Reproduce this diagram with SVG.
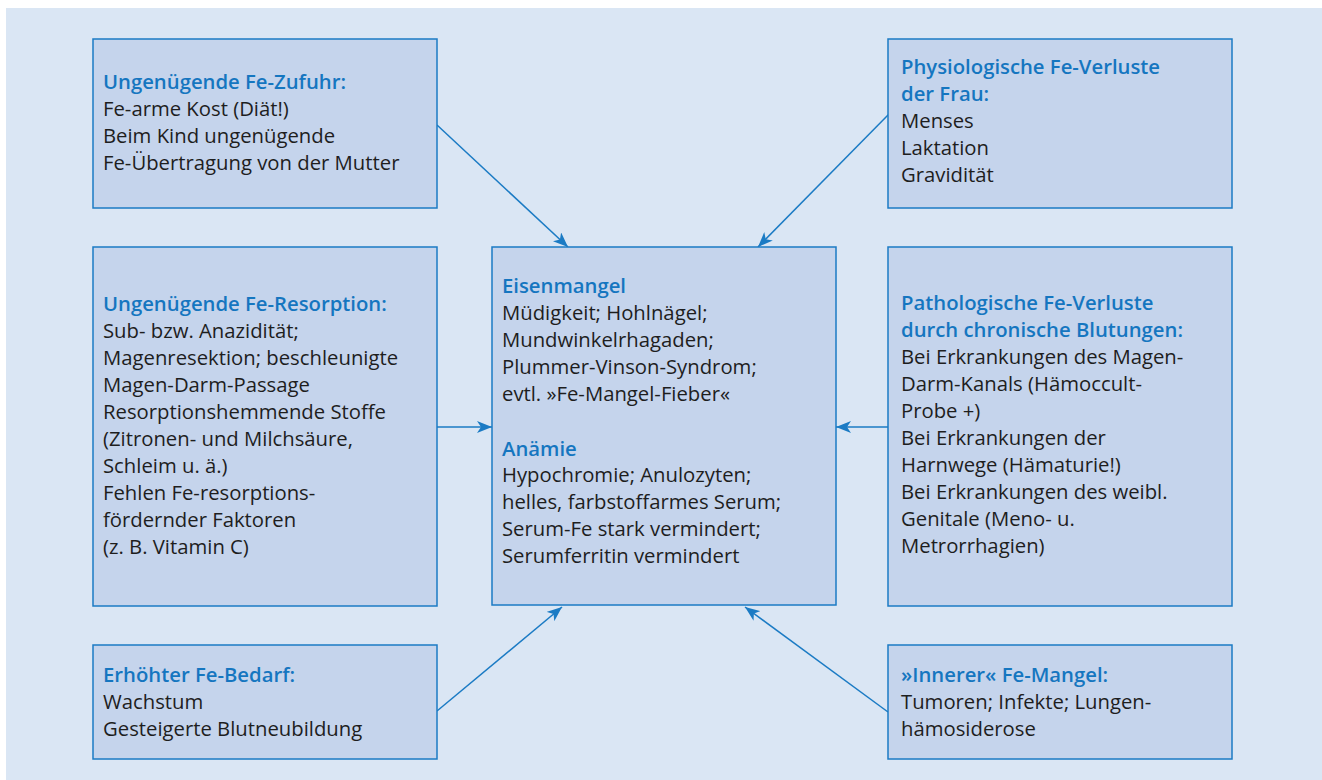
<svg xmlns="http://www.w3.org/2000/svg" width="1322" height="780" viewBox="0 0 1322 780">
<style>
.box{fill:#c5d4ec;stroke:#1b7bc4;stroke-width:1.5}
.t{font-family:"Open Sans","Noto Sans",sans-serif;font-size:20.3px;fill:#1e1e1e}
.h{font-weight:600;fill:#1576c0}
.c{stroke:#1b7bc4;stroke-width:1.5;fill:none;marker-end:url(#ah)}
</style>
<defs>
<marker id="ah" markerUnits="userSpaceOnUse" markerWidth="16" markerHeight="12" refX="15" refY="6" orient="auto">
<path d="M0,0 L15,6 L0,12 L4,6 z" fill="#1b7bc4"/>
</marker>
</defs>
<rect x="6" y="8" width="1316" height="772" fill="#dae6f4"/>
<g id="connectors">
<line class="c" x1="437" y1="125" x2="568" y2="247"/>
<line class="c" x1="889" y1="114" x2="758" y2="247"/>
<line class="c" x1="437" y1="427" x2="492" y2="427"/>
<line class="c" x1="888" y1="427" x2="836" y2="427"/>
<line class="c" x1="437" y1="711" x2="562" y2="607"/>
<line class="c" x1="888" y1="712" x2="745" y2="607"/>
</g>
<g id="n-zufuhr">
<rect class="box" x="93" y="39" width="344" height="169"/>
<text class="t" x="103"><tspan class="h" y="89">Ungenügende Fe-Zufuhr:</tspan><tspan x="103" y="116">Fe-arme Kost (Diät!)</tspan><tspan x="103" y="143">Beim Kind ungenügende</tspan><tspan x="103" y="170">Fe-Übertragung von der Mutter</tspan></text>
</g>
<g id="n-physio">
<rect class="box" x="888" y="39" width="344" height="169"/>
<text class="t" x="901"><tspan class="h" y="74">Physiologische Fe-Verluste</tspan><tspan class="h" x="901" y="101">der Frau:</tspan><tspan x="901" y="128">Menses</tspan><tspan x="901" y="155">Laktation</tspan><tspan x="901" y="182">Gravidität</tspan></text>
</g>
<g id="n-resorption">
<rect class="box" x="93" y="247" width="344" height="359"/>
<text class="t" x="103"><tspan class="h" y="311">Ungenügende Fe-Resorption:</tspan><tspan x="103" y="338">Sub- bzw. Anazidität;</tspan><tspan x="103" y="365">Magenresektion; beschleunigte</tspan><tspan x="103" y="392">Magen-Darm-Passage</tspan><tspan x="103" y="419">Resorptionshemmende Stoffe</tspan><tspan x="103" y="446">(Zitronen- und Milchsäure,</tspan><tspan x="103" y="473">Schleim u. ä.)</tspan><tspan x="103" y="500">Fehlen Fe-resorptions-</tspan><tspan x="103" y="527">fördernder Faktoren</tspan><tspan x="103" y="554">(z. B. Vitamin C)</tspan></text>
</g>
<g id="n-center">
<rect class="box" x="492" y="247" width="344" height="358"/>
<text class="t" x="502"><tspan class="h" y="293">Eisenmangel</tspan><tspan x="502" y="320">Müdigkeit; Hohlnägel;</tspan><tspan x="502" y="347">Mundwinkelrhagaden;</tspan><tspan x="502" y="374">Plummer-Vinson-Syndrom;</tspan><tspan x="502" y="401">evtl. »Fe-Mangel-Fieber«</tspan><tspan class="h" x="502" y="456">Anämie</tspan><tspan x="502" y="482">Hypochromie; Anulozyten;</tspan><tspan x="502" y="509">helles, farbstoffarmes Serum;</tspan><tspan x="502" y="536">Serum-Fe stark vermindert;</tspan><tspan x="502" y="563">Serumferritin vermindert</tspan></text>
</g>
<g id="n-patho">
<rect class="box" x="888" y="247" width="344" height="359"/>
<text class="t" x="901"><tspan class="h" y="310">Pathologische Fe-Verluste</tspan><tspan class="h" x="901" y="337">durch chronische Blutungen:</tspan><tspan x="901" y="364">Bei Erkrankungen des Magen-</tspan><tspan x="901" y="391">Darm-Kanals (Hämoccult-</tspan><tspan x="901" y="418">Probe +)</tspan><tspan x="901" y="445">Bei Erkrankungen der</tspan><tspan x="901" y="472">Harnwege (Hämaturie!)</tspan><tspan x="901" y="499">Bei Erkrankungen des weibl.</tspan><tspan x="901" y="526">Genitale (Meno- u.</tspan><tspan x="901" y="553">Metrorrhagien)</tspan></text>
</g>
<g id="n-bedarf">
<rect class="box" x="93" y="645" width="344" height="114"/>
<text class="t" x="103"><tspan class="h" y="682">Erhöhter Fe-Bedarf:</tspan><tspan x="103" y="709">Wachstum</tspan><tspan x="103" y="736">Gesteigerte Blutneubildung</tspan></text>
</g>
<g id="n-innerer">
<rect class="box" x="888" y="645" width="344" height="114"/>
<text class="t" x="901"><tspan class="h" y="682">»Innerer« Fe-Mangel:</tspan><tspan x="901" y="709">Tumoren; Infekte; Lungen-</tspan><tspan x="901" y="736">hämosiderose</tspan></text>
</g>
</svg>
